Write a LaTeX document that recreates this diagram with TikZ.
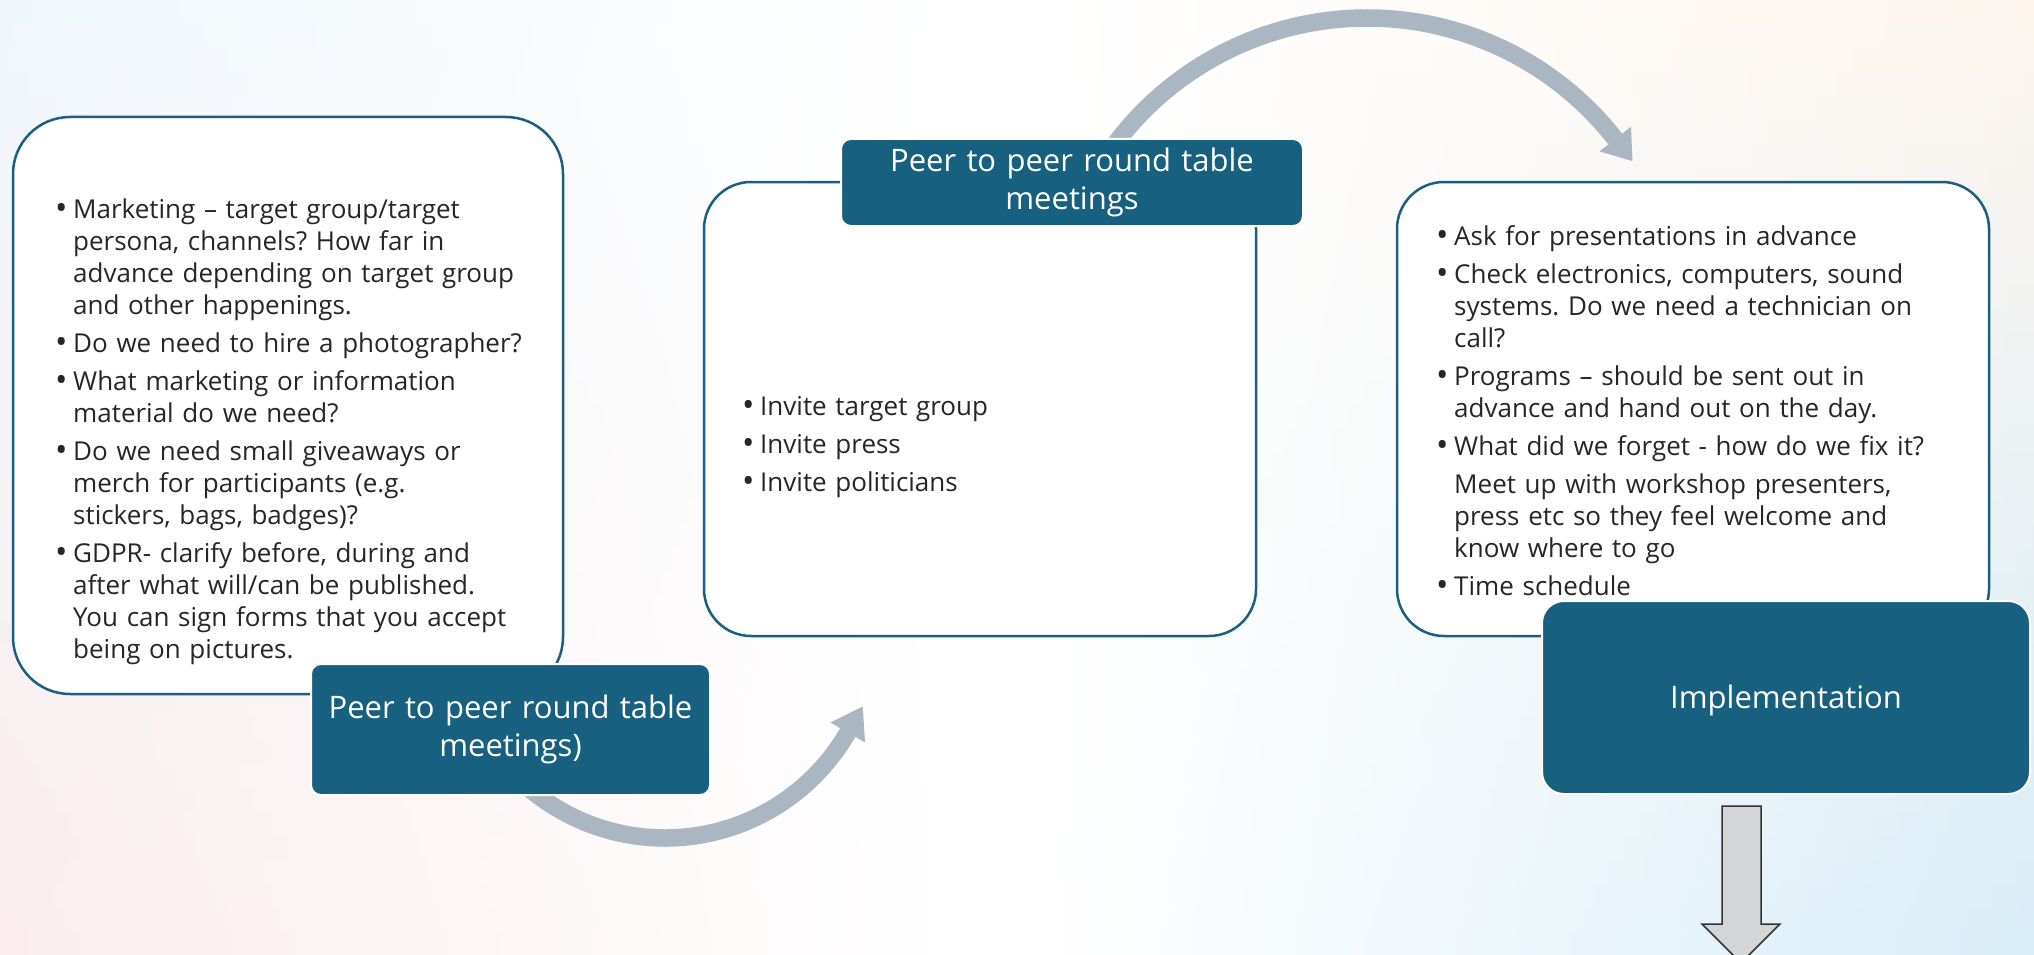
\documentclass[tikz,border=0pt]{standalone}
\usepackage{fontspec}
\setmainfont{Open Sans}
\usetikzlibrary{calc}
\definecolor{boxblue}{RGB}{26,95,128}
\definecolor{labfill}{RGB}{23,96,128}
\definecolor{arcgray}{RGB}{170,182,194}
\definecolor{txt}{RGB}{38,38,38}
\definecolor{bgblue}{RGB}{240,247,252}
\definecolor{bgpink}{RGB}{251,237,237}
\definecolor{bgpeach}{RGB}{253,245,238}
\definecolor{bgbluetwo}{RGB}{216,237,248}
\definecolor{arrowfill}{RGB}{212,213,215}
\definecolor{arrowline}{RGB}{50,50,50}
\newcommand{\bul}{\hbox to 18pt{\raisebox{-0.05em}{\fontsize{33}{32}\selectfont\textbullet}\hss}}
\newcommand{\bfirst}[1]{\hangindent=18pt\hangafter=1\noindent\bul#1}
\newcommand{\bitem}[1]{\par\hangindent=18pt\hangafter=1\noindent\bul#1}
\newcommand{\bcont}[1]{\par\hangindent=18pt\hangafter=0\noindent #1}
\tikzset{
  card/.style={draw=boxblue, line width=2.5pt, fill=white, inner sep=0pt},
  labelbox/.style={fill=labfill, draw=white, line width=2pt, rounded corners=10pt, inner sep=0pt,
    text=white, align=center, font=\fontsize{31}{38}\selectfont},
  bodytext/.style={text width=560pt, font=\fontsize{26}{32}\selectfont\frenchspacing, text=txt, inner sep=0pt, align=left},
  arcshaft/.style={draw=arcgray, line width=17.5pt},
  archead/.style={fill=arcgray},
  downarrow/.style={fill=arrowfill, draw=arrowline, line width=1.5pt, line join=miter}
}
\begin{document}
\begin{tikzpicture}[x=1pt,y=1pt]
\useasboundingbox (0,0) rectangle (2034,-955);
% background
\fill[white] (0,0) rectangle (2034,-955);
\foreach \i in {0,...,39}{
  \pgfmathsetmacro{\p}{100-\i*100/39}
  \fill[left color=bgblue!\p!bgpink, right color=white] (0,-\i*23.875) rectangle (950,-\i*23.875-24.6);
  \fill[left color=white, right color=bgpeach!\p!bgbluetwo] (1050,-\i*23.875) rectangle (2034,-\i*23.875-24.6);
}

% cards
\node[card, rounded corners=57pt, minimum width=550pt, minimum height=577pt] (plan) at (288,-405.5) {};
\node[card, rounded corners=47pt, minimum width=552pt, minimum height=454pt] (invite) at (980,-409) {};
\node[card, rounded corners=47pt, minimum width=592pt, minimum height=454pt] (prep) at (1693,-409) {};

% card texts
\node[bodytext, anchor=base west] (plantext) at (55,-218) {\setlength{\parskip}{6pt}%
\bfirst{Marketing – target group/target\newline persona, channels? How far in\newline advance depending on target group\newline and other happenings.}
\bitem{Do we need to hire a photographer?}
\bitem{What marketing or information\newline material do we need?}
\bitem{Do we need small giveaways or\newline merch for participants (e.g.\newline stickers, bags, badges)?}
\bitem{GDPR- clarify before, during and\newline after what will/can be published.\newline You can sign forms that you accept\newline being on pictures.}\par};

\node[bodytext, anchor=base west] (invitetext) at (742,-415) {\setlength{\parskip}{6pt}%
\bfirst{Invite target group}
\bitem{Invite press}
\bitem{Invite politicians}\par};

\node[bodytext, anchor=base west] (preptext) at (1436,-245) {\setlength{\parskip}{6pt}%
\bfirst{Ask for presentations in advance}
\bitem{Check electronics, computers, sound\newline systems. Do we need a technician on\newline call?}
\bitem{Programs – should be sent out in\newline advance and hand out on the day.}
\bitem{What did we forget - how do we fix it?}
\bcont{Meet up with workshop presenters,\newline press etc so they feel welcome and\newline know where to go}
\bitem{Time schedule}\par};

% curved arrows (under the labels)
\coordinate (c1) at (665,-627);
\coordinate (b1s) at ([shift={(-135:211pt)}]c1);
\coordinate (b1e) at ([shift={(-30:211pt)}]c1);
\draw[arcshaft] (b1s) arc[start angle=-135, end angle=-30, radius=211pt];
\fill[archead] ([shift={(-30:231pt)}]c1) -- ([shift={(-30:191pt)}]c1) -- ($(b1e)+(15,25.98)$) -- cycle;

\coordinate (c2) at (1367,-333);
\coordinate (t1s) at ([shift={(147:315pt)}]c2);
\coordinate (t1e) at ([shift={(38:315pt)}]c2);
\draw[arcshaft] (t1s) arc[start angle=147, end angle=38, radius=315pt];
\fill[archead] ([shift={(38:335pt)}]c2) -- ([shift={(38:295pt)}]c2) -- ($(t1e)+(17.24,-22.06)$) -- cycle;

% labels
\node[labelbox, minimum width=399pt, minimum height=131pt, text width=399pt] (lab1) at (510.5,-729.5) {Peer to peer round table\\meetings)};
\node[labelbox, minimum width=462pt, minimum height=87pt, text width=462pt] (lab2) at (1072,-182.5) {Peer to peer round table\\meetings};
\node[labelbox, rounded corners=22pt, minimum width=488pt, minimum height=193pt, text width=488pt, text height=23.6pt, text depth=1pt] (impl) at (1786,-697.5) {Implementation};

% down arrow
\draw[downarrow] (1722,-806) -- (1761,-806) -- (1761,-924) -- (1780,-924) -- (1741,-963) -- (1702,-924) -- (1722,-924) -- cycle;
\end{tikzpicture}
\end{document}
